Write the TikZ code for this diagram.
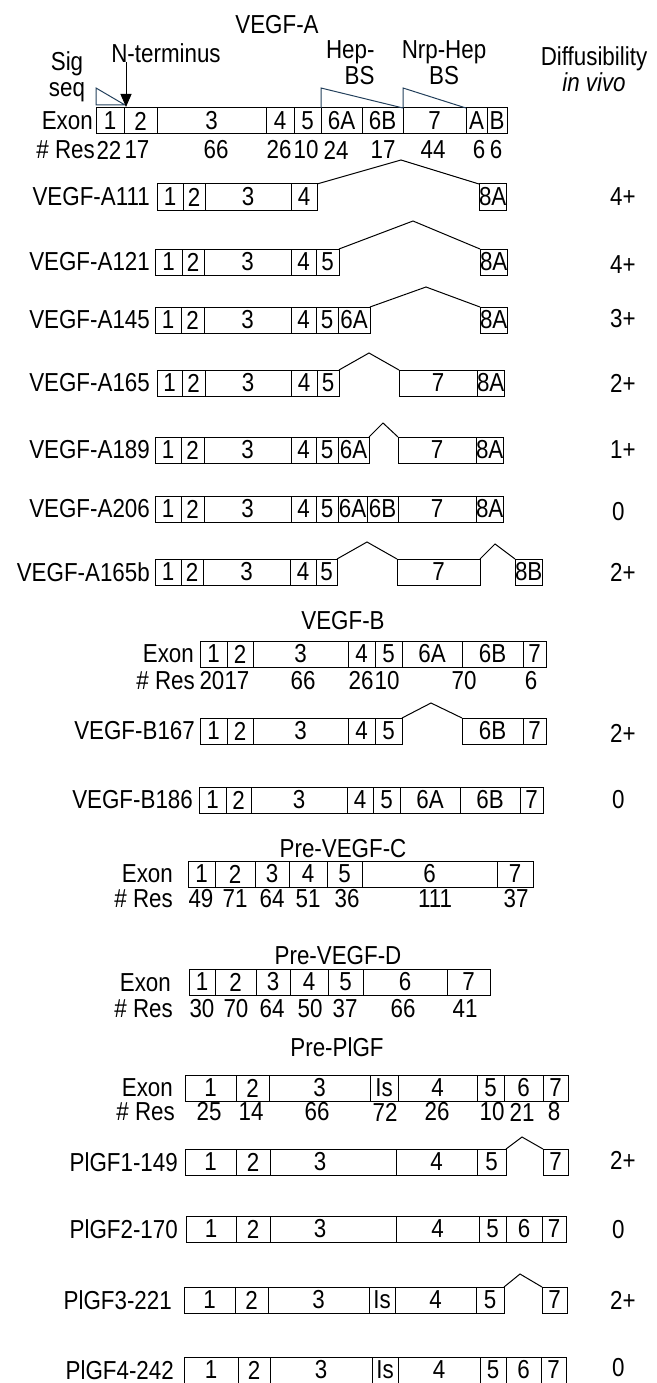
\documentclass[tikz,border=0pt]{standalone}
\usepackage{fontspec}
\setmainfont{Liberation Sans}[FakeStretch=0.86]
\usepackage{xcolor}
\definecolor{bsline}{HTML}{23405C}
\usepackage{tikz}
\usetikzlibrary{arrows.meta}
\newcommand{\figfont}{\fontsize{26}{26}\selectfont}
\tikzset{
  exon/.style={draw, line width=1pt, inner sep=0pt, outer sep=0pt, minimum height=26pt},
  rowlabel/.style={inner sep=0pt, anchor=east},
  resval/.style={inner sep=0pt},
  diffval/.style={inner sep=0pt, anchor=west},
  splice/.style={line width=1pt},
}
% one row of exon boxes: name, top y, list x0/x1/label
\newcommand{\exonrow}[3]{%
  \foreach \xa/\xb/\lab in {#3}{%
    \pgfmathsetmacro{\exw}{\xb-\xa}%
    \node[exon, minimum width=\exw pt, anchor=north west] (#1-\lab) at (\xa,#2) {\lab};
  }}
% residue counts under an exon row: name, y, list x/value
\newcommand{\resrow}[3]{%
  \foreach \xx/\vv [count=\i] in {#3}{%
    \node[resval] (#1-\i) at (\xx,#2) {\vv};
  }}

\begin{document}
\begin{tikzpicture}[x=1pt, y=-1pt, font=\figfont]
  \useasboundingbox (0,0) rectangle (656,1383);

  % VEGF-A gene
  \node (titleA) at (277,25) {VEGF-A};
  \node[align=center] (sig) at (67,77) {Sig\\seq};
  \node (nterm) at (166,53) {N-terminus};
  \node[align=right, anchor=east] (hepbs) at (378,63) {Hep-\\BS};
  \node[align=center] (nrpbs) at (444,63) {Nrp-Hep\\BS};
  \node[align=center] (diffhead) at (594,69) {Diffusibility\\\itshape in vivo};

  \exonrow{aex}{108}{96/124/1,124/157/2,157/266/3,266/294/4,294/321/5,321/362/6A,362/403/6B,403/466/7,466/487/A,487/507/B}
  \node[rowlabel] (exA) at (93,121) {Exon};
  \node[rowlabel] (resAl) at (95,150) {\# Res};
  \resrow{resA}{150}{109/22,137/17,216/66,279/26,306/10,336/24,383/17,433/44,479/6,496/6}

  \draw[bsline, line width=1pt] (96,88) -- (96,105) -- (125,105) -- cycle;
  \draw[bsline, line width=1pt] (aex-6A.north west) -- ++(0,-20) -- (aex-6B.north east);
  \draw[bsline, line width=1pt] (aex-7.north west) -- ++(0,-20) -- (aex-7.north east);
  \coordinate (ntail) at (126,62);
  \coordinate (ntip) at (126,107);
  \draw[-{Triangle[length=13pt,width=11pt]}, line width=1pt] (ntail) -- (ntip);

  % VEGF-A isoforms
  \exonrow{a111}{184}{157/183/1,183/205/2,205/291/3,291/317/4,479/505/8A}
  \coordinate (pk111) at (401,160);
  \draw[splice] (a111-4.north east) -- (pk111) -- (a111-8A.north west);
  \node[rowlabel] (l111) at (150,197) {VEGF-A111};
  \node[diffval] (d111) at (610,197) {4+};

  \exonrow{a121}{249}{155/182/1,182/204/2,204/291/3,291/316/4,316/339/5,480/507/8A}
  \coordinate (pk121) at (413,221);
  \draw[splice] (a121-5.north east) -- (pk121) -- (a121-8A.north west);
  \node[rowlabel] (l121) at (150,262) {VEGF-A121};
  \node[diffval] (d121) at (610,265) {4+};

  \exonrow{a145}{307}{155/181/1,181/204/2,204/291/3,291/316/4,316/338/5,338/370/6A,480/506/8A}
  \coordinate (pk145) at (426,287);
  \draw[splice] (a145-6A.north east) -- (pk145) -- (a145-8A.north west);
  \node[rowlabel] (l145) at (150,320) {VEGF-A145};
  \node[diffval] (d145) at (610,319) {3+};

  \exonrow{a165}{370}{157/182/1,182/205/2,205/291/3,291/317/4,317/339/5,399/477/7,477/503/8A}
  \coordinate (pk165) at (369,353);
  \draw[splice] (a165-5.north east) -- (pk165) -- (a165-7.north west);
  \node[rowlabel] (l165) at (150,383) {VEGF-A165};
  \node[diffval] (d165) at (610,383) {2+};

  \exonrow{a189}{437}{155/181/1,181/204/2,204/291/3,291/316/4,316/338/5,338/369/6A,398/476/7,476/503/8A}
  \coordinate (pk189) at (383,423);
  \draw[splice] (a189-6A.north east) -- (pk189) -- (a189-7.north west);
  \node[rowlabel] (l189) at (150,450) {VEGF-A189};
  \node[diffval] (d189) at (610,450) {1+};

  \exonrow{a206}{496}{155/181/1,181/204/2,204/291/3,291/316/4,316/338/5,338/367/6A,367/398/6B,398/476/7,476/503/8A}
  \node[rowlabel] (l206) at (150,509) {VEGF-A206};
  \node[diffval] (d206) at (612,512) {0};

  \exonrow{a165b}{559}{155/181/1,181/203/2,203/290/3,290/316/4,316/337/5,397/480/7,515/542/8B}
  \coordinate (pk165b) at (367,542);
  \coordinate (pk165c) at (495,544);
  \draw[splice] (a165b-5.north east) -- (pk165b) -- (a165b-7.north west);
  \draw[splice] (a165b-7.north east) -- (pk165c) -- (a165b-8B.north west);
  \node[rowlabel] (l165b) at (150,572) {VEGF-A165b};
  \node[diffval] (d165b) at (610,572) {2+};

  % VEGF-B
  \node (titleB) at (343,621) {VEGF-B};
  \exonrow{bex}{641}{200/227/1,227/253/2,253/348/3,348/375/4,375/402/5,402/462/6A,462/523/6B,523/546/7}
  \node[rowlabel] (exB) at (194,654) {Exon};
  \node[rowlabel] (resBl) at (195,681) {\# Res};
  \resrow{resB}{681}{212/20,237/17,303/66,361/26,387/10,464/70,531/6}

  \exonrow{b167}{718}{200/227/1,227/253/2,253/348/3,348/375/4,375/402/5,462/523/6B,523/546/7}
  \coordinate (pk167) at (431,703);
  \draw[splice] (b167-5.north east) -- (pk167) -- (b167-6B.north west);
  \node[rowlabel] (l167) at (195,731) {VEGF-B167};
  \node[diffval] (d167) at (610,733) {2+};

  \exonrow{b186}{787}{199/226/1,226/251/2,251/347/3,347/373/4,373/400/5,400/460/6A,460/520/6B,520/543/7}
  \node[rowlabel] (l186) at (193,800) {VEGF-B186};
  \node[diffval] (d186) at (612,800) {0};

  % Pre-VEGF-C
  \node (titleC) at (343,849) {Pre-VEGF-C};
  \exonrow{cex}{861}{188/215/1,215/255/2,255/289/3,289/327/4,327/362/5,362/497/6,497/533/7}
  \node[rowlabel] (exC) at (173,874) {Exon};
  \node[rowlabel] (resCl) at (173,899) {\# Res};
  \resrow{resC}{899}{201/49,235/71,272/64,308/51,347/36,435/111,516/37}

  % Pre-VEGF-D
  \node (titleD) at (338,956) {Pre-VEGF-D};
  \exonrow{dex}{969}{189/215/1,215/256/2,256/290/3,290/328/4,328/363/5,363/447/6,447/490/7}
  \node[rowlabel] (exD) at (171,983) {Exon};
  \node[rowlabel] (resDl) at (173,1009) {\# Res};
  \resrow{resD}{1009}{202/30,236/70,272/64,310/50,345/37,403/66,465/41}

  % Pre-PlGF
  \node (titleP) at (337,1047) {Pre-PlGF};
  \exonrow{pex}{1075}{185/236/1,236/269/2,269/370/3,370/398/Is,398/477/4,477/504/5,504/543/6,543/568/7}
  \node[rowlabel] (exP) at (173,1088) {Exon};
  \node[rowlabel] (resPl) at (175,1112) {\# Res};
  \resrow{resP}{1112}{209/25,251/14,317/66,385/72,437/26,492/10,522/21,554/8}

  % PlGF isoforms
  \exonrow{p149}{1149}{185/236/1,236/270/2,396/477/4,477/506/5,543/568/7}
  \node[exon, minimum width=126pt, anchor=north west, label={[xshift=-13pt]center:3}] (p149-3) at (270,1149) {};
  \coordinate (pk149) at (522,1137);
  \draw[splice] (p149-5.north east) -- (pk149) -- (p149-7.north west);
  \node[rowlabel] (l149) at (178,1162) {PlGF1-149};
  \node[diffval] (d149) at (610,1160) {2+};

  \exonrow{p170}{1216}{186/236/1,236/270/2,396/479/4,479/506/5,506/542/6,542/566/7}
  \node[exon, minimum width=126pt, anchor=north west, label={[xshift=-13pt]center:3}] (p170-3) at (270,1216) {};
  \node[rowlabel] (l170) at (178,1229) {PlGF2-170};
  \node[diffval] (d170) at (612,1230) {0};

  \exonrow{p221}{1287}{184/235/1,235/268/2,268/369/3,369/395/Is,395/476/4,476/504/5,542/567/7}
  \coordinate (pk221) at (520,1274);
  \draw[splice] (p221-5.north east) -- (pk221) -- (p221-7.north west);
  \node[rowlabel] (l221) at (172,1300) {PlGF3-221};
  \node[diffval] (d221) at (610,1300) {2+};

  \exonrow{p242}{1357}{184/238/1,238/270/2,270/372/3,372/398/Is,398/480/4,480/506/5,506/541/6,541/566/7}
  \node[rowlabel] (l242) at (174,1370) {PlGF4-242};
  \node[diffval] (d242) at (612,1368) {0};
\end{tikzpicture}
\end{document}
